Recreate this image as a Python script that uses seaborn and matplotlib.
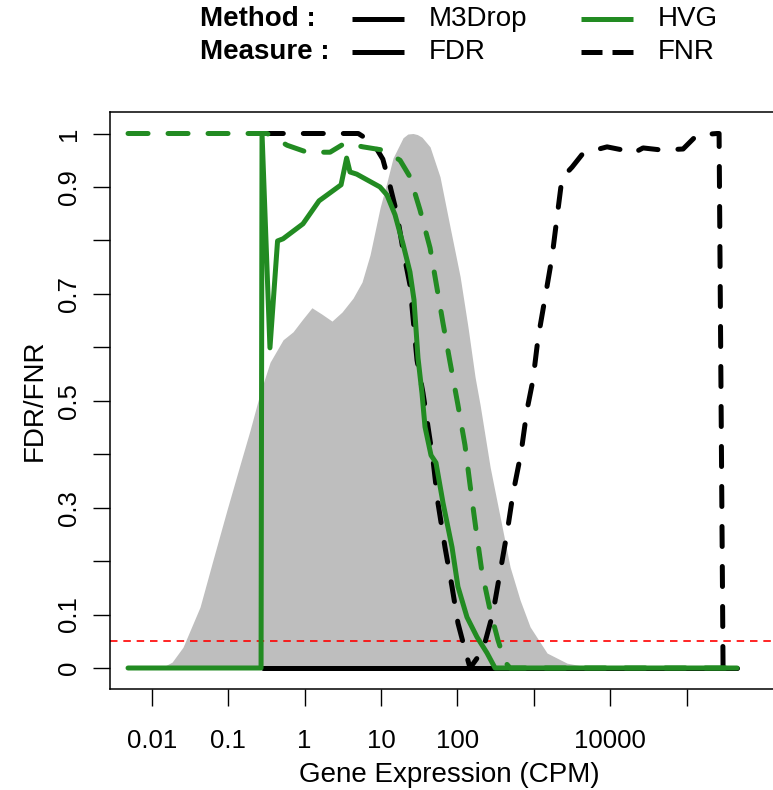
import numpy as np
import pandas as pd
import matplotlib
matplotlib.use("Agg")
import matplotlib.pyplot as plt
from matplotlib.lines import Line2D
from matplotlib.ticker import NullLocator
import seaborn as sns

# ---------------- data ----------------
# gene expression density (scaled to max 1)
dens_cpm = [0.0095, 0.0141, 0.0185, 0.0257, 0.0429, 0.0634, 0.0968, 0.143, 0.194, 0.262,
            0.354, 0.524, 0.708, 0.929, 1.25, 1.69, 2.29, 3.10, 4.32, 5.66,
            7.21, 9.75, 12.0, 14.4, 19.5, 22.5, 26.3, 30.0, 34.5, 44.0, 59.4, 80.4,
            109, 138, 171, 199, 269, 363, 491, 664, 897, 1496,
            2735, 5000, 10000]
dens_val = [0.0, 0.002, 0.011, 0.039, 0.114, 0.202, 0.296, 0.380, 0.445, 0.514,
            0.572, 0.614, 0.629, 0.651, 0.674, 0.662, 0.649, 0.666, 0.692, 0.722,
            0.773, 0.861, 0.909, 0.954, 0.992, 0.999, 1.0, 0.998, 0.993, 0.975, 0.919, 0.825,
            0.732, 0.638, 0.544, 0.492, 0.376, 0.283, 0.189, 0.127, 0.077, 0.028,
            0.009, 0.002, 0.0]

# HVG FDR (green solid)
hvg_fdr_cpm = [0.0049, 0.270, 0.278, 0.353, 0.444, 0.524, 0.955, 1.55, 3.01, 3.56,
               3.94, 4.82, 9.72, 12.0, 15.3, 19.5, 24.0, 27.1, 30.6, 34.5,
               37.8, 45.3, 52.6, 65.0, 85.3, 102, 134, 181, 245, 312, 459000]
hvg_fdr = [0.0, 0.0, 1.0, 0.599, 0.799, 0.803, 0.831, 0.874, 0.904, 0.954,
           0.928, 0.924, 0.900, 0.885, 0.848, 0.793, 0.741, 0.689, 0.580, 0.514,
           0.451, 0.398, 0.384, 0.309, 0.226, 0.152, 0.095, 0.058, 0.028, 0.0, 0.0]

# HVG FNR (green dashed)
hvg_fnr_cpm = [0.0049, 0.324, 0.592, 1.08, 2.16, 3.39, 5.83, 10.6, 17.8, 24.0,
               32.5, 44.0, 54.2, 65.0, 80.4, 102, 126, 147, 176, 210,
               268, 341, 422, 490, 459000]
hvg_fnr = [1.0, 1.0, 0.978, 0.965, 0.965, 0.982, 0.975, 0.969, 0.950, 0.919,
           0.857, 0.786, 0.711, 0.645, 0.572, 0.492, 0.417, 0.342, 0.258, 0.180,
           0.109, 0.052, 0.011, 0.0, 0.0]

# M3Drop FDR (black solid)
m3_fdr_cpm = [0.289, 459000]
m3_fdr = [0.0, 0.0]

# M3Drop FNR (black dashed)
m3_fnr_cpm = [0.289, 5.06, 7.94, 10.6, 12.8, 16.3, 19.5, 24.0, 29.7, 35.6,
              41.4, 48.1, 55.8, 69.0, 85.3, 102, 126, 147, 217, 293,
              362, 448, 537, 682, 818, 979, 1140, 1406, 1738, 2023,
              2350, 3177, 4426, 9120, 14800, 20000, 27000, 47900, 90200, 137000,
              251000, 267000, 301000, 459000]
m3_fnr = [1.0, 1.0, 0.982, 0.952, 0.909, 0.848, 0.782, 0.717, 0.576, 0.514,
          0.451, 0.389, 0.309, 0.226, 0.152, 0.084, 0.034, 0.0, 0.034, 0.103,
          0.178, 0.253, 0.327, 0.402, 0.483, 0.539, 0.617, 0.692, 0.769, 0.844,
          0.917, 0.937, 0.963, 0.975, 0.969, 0.963, 0.973, 0.969, 0.971, 0.997,
          1.0, 1.0, 0.0, 0.0]

fdr_threshold = 0.05

x_tick_values = [0.01, 0.1, 1, 10, 100, 1000, 10000, 100000]
x_tick_labels = ["0.01", "0.1", "1", "10", "100", "", "10000", ""]
y_tick_values = [0, 0.1, 0.2, 0.3, 0.4, 0.5, 0.6, 0.7, 0.8, 0.9, 1.0]
y_tick_labels = ["0", "0.1", "", "0.3", "", "0.5", "", "0.7", "", "0.9", "1"]

# ---------------- styling ----------------
sns.set_theme(style="white")
plt.rcParams['font.family'] = ['Liberation Sans', 'DejaVu Sans']

FW, FH = 773, 790
fig = plt.figure(figsize=(FW / 100, FH / 100), dpi=100)
fig.patch.set_facecolor("white")

# plot region (box runs off the right edge, as in the reference)
L, R, T, B = 110, 789, 112, 689
ax = fig.add_axes([L / FW, 1 - B / FH, (R - L) / FW, (B - T) / FH])
ax.set_facecolor("white")

GREEN = "#228B22"
GREY = "#BEBEBE"
LW = 3.6
TICK_FS = 18.5
LAB_FS = 20

ax.fill_between(dens_cpm, dens_val, 0, color=GREY, linewidth=0, zorder=1)
ax.axhline(fdr_threshold, color="#FF0000", lw=1.2, ls=(0, (4.5, 3.5)), zorder=2)

common = dict(ax=ax, estimator=None, sort=False, linewidth=LW,
              solid_capstyle="round", dash_capstyle="round",
              solid_joinstyle="round", dash_joinstyle="round")
sns.lineplot(x=m3_fdr_cpm, y=m3_fdr, color="black", zorder=3, **common)
sns.lineplot(x=m3_fnr_cpm, y=m3_fnr, color="black", linestyle=(0, (4, 4)), zorder=3, **common)
sns.lineplot(x=hvg_fdr_cpm, y=hvg_fdr, color=GREEN, zorder=4, **common)
sns.lineplot(x=hvg_fnr_cpm, y=hvg_fnr, color=GREEN, linestyle=(0, (4, 4)), zorder=4, **common)

ax.set_xscale("log")
f = lambda px: -2 + (px - 151.7) / 76.4
ax.set_xlim(10 ** f(L), 10 ** f(R))
ax.set_ylim((668 - B) / 534.5, (668 - T) / 534.5)

ax.set_xticks(x_tick_values)
ax.set_xticklabels(x_tick_labels)
ax.xaxis.set_minor_locator(NullLocator())
ax.set_yticks(y_tick_values)
ax.set_yticklabels(y_tick_labels, rotation=90, va="center")

ax.tick_params(axis="both", which="major", direction="out", length=12.2, width=1.0,
               color="black", labelsize=TICK_FS, labelcolor="black", bottom=True, left=True)
ax.tick_params(axis="x", pad=16.5)
ax.tick_params(axis="y", pad=9)
for s in ax.spines.values():
    s.set_color("black")
    s.set_linewidth(1.1)
    s.set_visible(True)
ax.spines["right"].set_visible(False)

ax.set_xlabel("Gene Expression (CPM)", fontsize=LAB_FS, color="black")
ax.xaxis.set_label_coords(0.5, (B - 762) / (B - T))
ax.set_ylabel("FDR/FNR", fontsize=LAB_FS, color="black")
ax.yaxis.set_label_coords((48 - L) / (R - L), 0.5)

# ---------------- legend (top) ----------------
def fx(px):
    return px / FW

def fy(py):
    return 1 - py / FH

rows = [("Method :", 19, [("M3Drop", "black", "-"), ("HVG", GREEN, "-")]),
        ("Measure :", 52, [("FDR", "black", "-"), ("FNR", "black", (0, (4.2, 2.0)))])]
for title, ypx, entries in rows:
    fig.text(fx(200), fy(ypx), title, fontsize=LAB_FS, fontweight="bold",
             ha="left", va="center", color="black")
    for (lab, col, ls), x0 in zip(entries, [352, 581]):
        fig.add_artist(Line2D([fx(x0), fx(x0 + 52)], [fy(ypx), fy(ypx)],
                              transform=fig.transFigure, color=col, lw=LW, ls=ls,
                              solid_capstyle="butt", dash_capstyle="butt"))
        fig.text(fx(x0 + 77), fy(ypx), lab, fontsize=LAB_FS, ha="left", va="center",
                 color="black")

fig.savefig("out.png", dpi=100, facecolor="white")
